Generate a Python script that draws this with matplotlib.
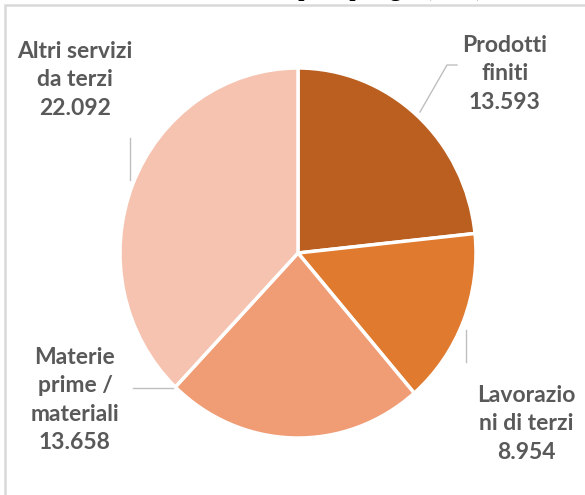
import matplotlib
matplotlib.use("Agg")
import matplotlib.pyplot as plt
from matplotlib.lines import Line2D
from matplotlib.patches import Rectangle

# costs by type (2021)
categories = ["Prodotti\nfiniti", "Lavorazio\nni di terzi", "Materie\nprime /\nmateriali", "Altri servizi\nda terzi"]
values = [13593, 8954, 13658, 22092]
value_labels = ["13.593", "8.954", "13.658", "22.092"]
colors = ["#BA5F20", "#E07A2F", "#F09C74", "#F5C3AF"]

W, H = 585, 495
fig = plt.figure(figsize=(W / 100, H / 100), dpi=100)
fig.patch.set_facecolor("white")


def fx(px):
    return px / W


def fy(py):
    return 1 - py / H


# chart area border (only top and left edge visible)
fig.add_artist(Rectangle((fx(5), fy(H + 20)), fx(W + 20), (H + 15) / H,
                         transform=fig.transFigure, fill=False,
                         edgecolor="#D9D9D9", linewidth=1.8))

# cropped title at the very top
fig.text(fx(484), fy(-4), "Costi per tipologia (2021)", ha="right", va="baseline",
         fontsize=16, fontweight="bold", family="Liberation Serif", color="black")

# pie (the source image is slightly stretched vertically)
cx, cy, rx, ry = 298, 253, 178, 185
ax = fig.add_axes([fx(cx - rx), fy(cy + ry), 2 * rx / W, 2 * ry / H])
ax.pie(values, colors=colors, startangle=90, counterclock=False, radius=1,
       wedgeprops=dict(edgecolor="white", linewidth=2.5))
ax.set_xlim(-1, 1)
ax.set_ylim(-1, 1)
ax.set_aspect("auto")
ax.axis("off")

# data labels
label_pos = [(505, 74), (526, 424), (75, 400), (75, 80)]
for name, val, (px, py) in zip(categories, value_labels, label_pos):
    fig.text(fx(px), fy(py), name + "\n" + val, ha="center", va="center",
             fontsize=16.5, fontweight="bold", family="Lato", color="#595959",
             linespacing=1.42)

# leader lines
leaders = [
    ([420, 447, 457], [112, 65, 65]),
    ([130, 130], [138, 180]),
    ([133, 173], [388, 388]),
    ([466, 466], [330, 362]),
]
for xs, ys in leaders:
    fig.add_artist(Line2D([fx(x) for x in xs], [fy(y) for y in ys],
                          transform=fig.transFigure, color="#BFBFBF", linewidth=1))

fig.savefig("out.png", dpi=100)
